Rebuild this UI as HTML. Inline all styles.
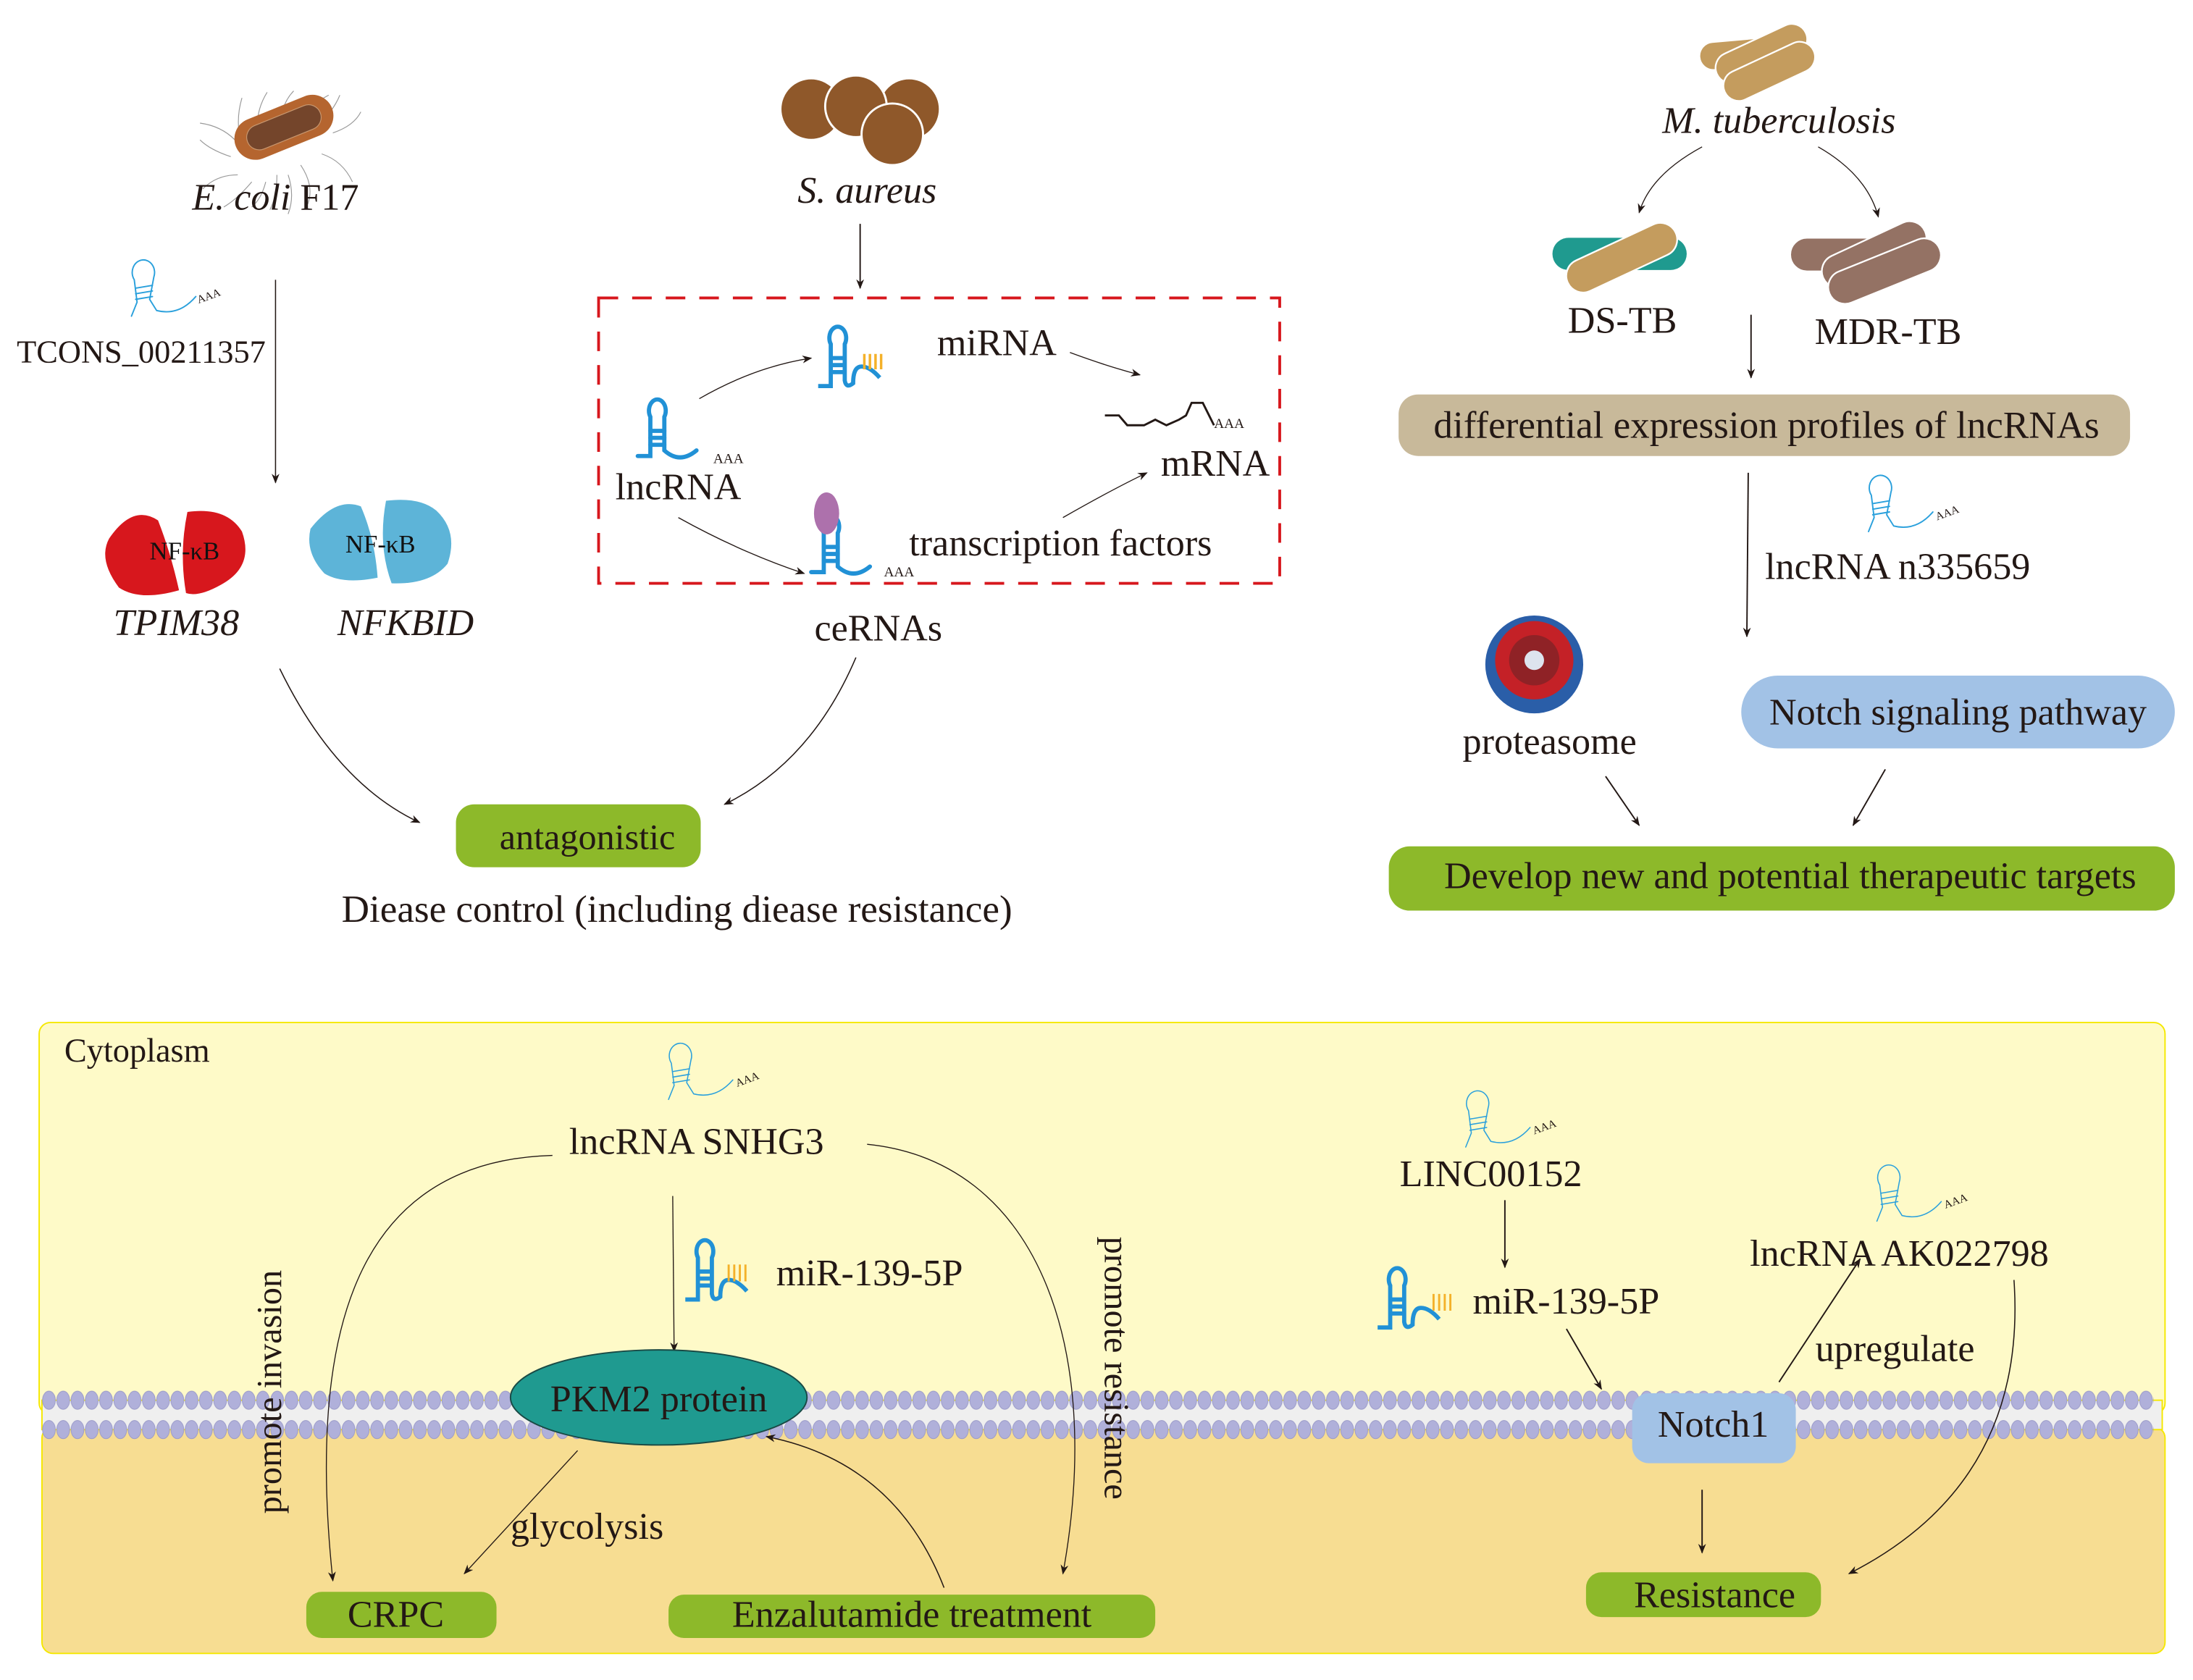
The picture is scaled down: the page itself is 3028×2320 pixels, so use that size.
<!DOCTYPE html>
<html><head><meta charset="utf-8"><style>
html,body{margin:0;padding:0;background:#fff}
svg{display:block}
text{font-family:"Liberation Serif",serif;fill:#231815}
</style></head><body>
<svg width="3028" height="2320" viewBox="0 0 1568 1201" preserveAspectRatio="none" xmlns="http://www.w3.org/2000/svg">
<defs>
<marker id="ar" viewBox="0 0 10 10" refX="9" refY="5" markerWidth="7" markerHeight="7" orient="auto-start-reverse" markerUnits="userSpaceOnUse"><path d="M0,1 L10,5 L0,9 L3,5 z" fill="#231815"/></marker>
<pattern id="mem" x="30" y="991" width="10.2" height="42" patternUnits="userSpaceOnUse">
<ellipse cx="5" cy="10" rx="4.6" ry="6.5" fill="#b0b0da" stroke="#9a9ac8" stroke-width="0.5"/>
<ellipse cx="5" cy="31" rx="4.6" ry="6.5" fill="#b0b0da" stroke="#9a9ac8" stroke-width="0.5"/>
</pattern>
<g id="hp" fill="none" stroke-linecap="round">
<path d="M0,42 L9,42 L9,14 A6,8 0 1 1 19,14 L19,38 Q30,48 42,38"/>
<path d="M9,24 H19 M9,29 H19 M9,34 H19"/>
</g>
<g id="hpt" fill="none" stroke-linecap="round">
<path d="M6,40 L10,30 L8,14 A8,9 0 1 1 22,12 L19,28 L24,36 Q40,40 52,26"/>
<path d="M9,20 L21,18 M9,24 L21,22 M9,28 L21,26"/>
</g>
<g id="mi" fill="none">
<path d="M0,44 L9,44 L9,14 A6,8 0 1 1 19,14 L19,40 Q20,46 25,42 Q25,30 31,30 Q37,30 44,38"/>
<path d="M9,24 H19 M9,29 H19 M9,34 H19"/>
</g>
</defs>

<!-- ===== E. coli section ===== -->
<g stroke="#999" stroke-width="0.6" fill="none">
<path d="M175,110 q-8,-20 -2,-40 M185,102 q-4,-20 6,-36 M200,95 q0,-20 10,-30 M215,90 q6,-15 20,-22 M228,88 q10,-8 15,-20 M238,95 q15,-5 20,-15 M230,110 q15,5 22,20 M215,118 q10,15 5,28 M198,125 q0,15 -5,25 M180,130 q-10,12 -20,18 M170,125 q-15,0 -25,10 M165,112 q-15,-5 -22,-12 M168,100 q-10,-10 -25,-12 M190,130 q-3,12 -10,18 M206,125 q5,15 0,28"/>
</g>
<rect x="166" y="76" width="74" height="30" rx="15" transform="rotate(-22 203 91)" fill="#b5652f"/>
<rect x="175" y="82" width="56" height="18" rx="9" transform="rotate(-22 203 91)" fill="#74452b" stroke="#c89870" stroke-width="0.6"/>
<text x="197" y="150" font-size="27" text-anchor="middle"><tspan font-style="italic">E. coli</tspan> F17</text>
<use href="#hpt" stroke="#2aa0dc" stroke-width="1" transform="translate(88,186)"/>
<text x="142" y="217" font-size="8" transform="rotate(-20 142 217)">AAA</text>
<text x="12" y="259" font-size="23">TCONS_00211357</text>
<line x1="197" y1="200" x2="197" y2="345" stroke="#231815" stroke-width="0.8" marker-end="url(#ar)"/>
<path d="M78,385 Q95,360 113,372 Q122,395 128,422 Q100,430 85,420 Q70,400 78,385z" fill="#d7171d"/>
<path d="M134,366 Q162,362 173,380 Q182,405 158,418 Q142,427 133,424 Q128,395 134,366z" fill="#d7171d"/>
<text x="132" y="400" font-size="18" text-anchor="middle" style="fill:#111">NF-κB</text>
<path d="M222,378 Q240,355 258,362 Q268,385 270,413 Q245,418 232,410 Q218,395 222,378z" fill="#5db4d8"/>
<path d="M276,358 Q300,355 312,365 Q328,380 320,403 Q308,418 280,417 Q270,390 276,358z" fill="#5db4d8"/>
<text x="272" y="395" font-size="18" text-anchor="middle" style="fill:#111">NF-κB</text>
<text x="126" y="454" font-size="27" font-style="italic" text-anchor="middle">TPIM38</text>
<text x="290" y="454" font-size="27" font-style="italic" text-anchor="middle">NFKBID</text>
<path d="M200,478 Q240,560 300,588" fill="none" stroke="#231815" stroke-width="0.8" marker-end="url(#ar)"/>
<path d="M612,470 Q580,545 518,575" fill="none" stroke="#231815" stroke-width="0.8" marker-end="url(#ar)"/>
<rect x="326" y="575" width="175" height="45" rx="13" fill="#8db92a"/>
<text x="420" y="607" font-size="26" text-anchor="middle">antagonistic</text>
<text x="484" y="659" font-size="27.5" text-anchor="middle">Diease control (including diease resistance)</text>

<!-- ===== S. aureus ===== -->
<circle cx="580" cy="78" r="22" fill="#8f582a" stroke="#fff" stroke-width="1.5"/>
<circle cx="650" cy="78" r="22" fill="#8f582a" stroke="#fff" stroke-width="1.5"/>
<circle cx="612" cy="76" r="22" fill="#8f582a" stroke="#fff" stroke-width="1.5"/>
<circle cx="638" cy="96" r="22" fill="#8f582a" stroke="#fff" stroke-width="1.5"/>
<text x="620" y="145" font-size="27" font-style="italic" text-anchor="middle">S. aureus</text>
<line x1="615" y1="160" x2="615" y2="206" stroke="#231815" stroke-width="1" marker-end="url(#ar)"/>
<rect x="428" y="213" width="487" height="204" fill="none" stroke="#d7171d" stroke-width="2" stroke-dasharray="14,10"/>
<use href="#hp" stroke="#2191d6" stroke-width="3" transform="translate(456,284)"/>
<text x="510" y="331" font-size="10">AAA</text>
<text x="440" y="357" font-size="27">lncRNA</text>
<use href="#mi" stroke="#2191d6" stroke-width="3" transform="translate(585,232)"/>
<path d="M618,253 V264 M622,253 V264 M626,253 V264 M630,253 V264" stroke="#f4b12a" stroke-width="1.8"/>
<text x="670" y="254" font-size="27">miRNA</text>
<polyline points="790,297 800,297 806,304 818,304 826,300 834,304 843,300 848,297 852,288 860,288 868,304" fill="none" stroke="#231815" stroke-width="1.5"/>
<text x="868" y="306" font-size="10">AAA</text>
<text x="830" y="340" font-size="27">mRNA</text>
<use href="#hp" stroke="#2191d6" stroke-width="3" transform="translate(580,367)"/>
<ellipse cx="591" cy="367" rx="9" ry="15" fill="#ad71ac"/>
<text x="632" y="412" font-size="10">AAA</text>
<text x="650" y="397" font-size="27">transcription factors</text>
<path d="M500,285 Q540,262 580,256" fill="none" stroke="#231815" stroke-width="0.7" marker-end="url(#ar)"/>
<path d="M765,252 Q792,262 815,268" fill="none" stroke="#231815" stroke-width="0.7" marker-end="url(#ar)"/>
<path d="M485,370 Q530,395 575,410" fill="none" stroke="#231815" stroke-width="0.7" marker-end="url(#ar)"/>
<path d="M760,370 Q795,350 820,338" fill="none" stroke="#231815" stroke-width="0.7" marker-end="url(#ar)"/>
<text x="628" y="458" font-size="27" text-anchor="middle">ceRNAs</text>

<!-- ===== TB section ===== -->
<g fill="#c49c5e" stroke="#fff" stroke-width="1.2">
<rect x="1215" y="28" width="66" height="20" rx="10" transform="rotate(-5 1248 38)"/>
<rect x="1225" y="28" width="70" height="22" rx="11" transform="rotate(-25 1258 40)"/>
<rect x="1230" y="40" width="70" height="22" rx="11" transform="rotate(-25 1265 51)"/>
</g>
<text x="1272" y="95" font-size="27" font-style="italic" text-anchor="middle">M. tuberculosis</text>
<path d="M1217,105 Q1180,125 1172,152" fill="none" stroke="#231815" stroke-width="0.7" marker-end="url(#ar)"/>
<path d="M1300,105 Q1335,125 1343,155" fill="none" stroke="#231815" stroke-width="0.7" marker-end="url(#ar)"/>
<rect x="1110" y="170" width="96" height="23" rx="11.5" fill="#1f9a8f"/>
<rect x="1117" y="172" width="85" height="24" rx="12" transform="rotate(-25 1160 184)" fill="#c49c5e" stroke="#fff" stroke-width="1.2"/>
<text x="1160" y="238" font-size="27" text-anchor="middle">DS-TB</text>
<g fill="#947264" stroke="#fff" stroke-width="1.2">
<rect x="1280" y="170" width="70" height="24" rx="12"/>
<rect x="1300" y="170" width="80" height="24" rx="12" transform="rotate(-25 1340 182)"/>
<rect x="1305" y="182" width="85" height="24" rx="12" transform="rotate(-22 1347 194)"/>
</g>
<text x="1350" y="246" font-size="27" text-anchor="middle">MDR-TB</text>
<line x1="1252" y1="225" x2="1252" y2="270" stroke="#231815" stroke-width="1" marker-end="url(#ar)"/>
<rect x="1000" y="282" width="523" height="44" rx="14" fill="#c8b99a"/>
<text x="1263" y="313" font-size="27.5" text-anchor="middle">differential expression profiles of lncRNAs</text>
<line x1="1250" y1="338" x2="1249" y2="455" stroke="#231815" stroke-width="1" marker-end="url(#ar)"/>
<use href="#hpt" stroke="#2aa0dc" stroke-width="1" transform="translate(1330,340)"/>
<text x="1385" y="372" font-size="8" transform="rotate(-20 1385 372)">AAA</text>
<text x="1262" y="414" font-size="27">lncRNA n335659</text>
<circle cx="1097" cy="475" r="35" fill="#2a5ea8"/>
<circle cx="1097" cy="472" r="28" fill="#c42127"/>
<circle cx="1097" cy="472" r="18" fill="#8f2226"/>
<circle cx="1097" cy="472" r="7" fill="#dde4ee"/>
<text x="1108" y="539" font-size="27" text-anchor="middle">proteasome</text>
<rect x="1245" y="483" width="310" height="52" rx="26" fill="#a2c2e6"/>
<text x="1400" y="518" font-size="27" text-anchor="middle">Notch signaling pathway</text>
<line x1="1148" y1="555" x2="1172" y2="590" stroke="#231815" stroke-width="1" marker-end="url(#ar)"/>
<line x1="1348" y1="550" x2="1325" y2="590" stroke="#231815" stroke-width="1" marker-end="url(#ar)"/>
<rect x="993" y="605" width="562" height="46" rx="15" fill="#8db92a"/>
<text x="1280" y="635" font-size="27" text-anchor="middle">Develop new and potential therapeutic targets</text>

<!-- ===== bottom cell ===== -->
<rect x="28" y="731" width="1520" height="280" rx="8" fill="#fefac8" stroke="#f5e800" stroke-width="1"/>
<rect x="30" y="1020" width="1518" height="162" rx="8" fill="#f7dd92" stroke="#f5e800" stroke-width="1"/>
<rect x="30" y="1001" width="1516" height="21" fill="#efefef" stroke="#f5e800" stroke-width="1"/>
<rect x="30" y="991" width="1510" height="42" fill="url(#mem)"/>
<text x="46" y="759" font-size="24">Cytoplasm</text>
<use href="#hpt" stroke="#2aa0dc" stroke-width="0.8" transform="translate(472,746)"/>
<text x="527" y="777" font-size="8" transform="rotate(-20 527 777)">AAA</text>
<text x="498" y="825" font-size="27" text-anchor="middle">lncRNA SNHG3</text>
<path d="M395,826 C250,830 220,960 238,1130" fill="none" stroke="#231815" stroke-width="0.7" marker-end="url(#ar)"/>
<text transform="translate(201,995) rotate(-90)" font-size="25" text-anchor="middle">promote invasion</text>
<path d="M620,818 C740,830 790,960 760,1125" fill="none" stroke="#231815" stroke-width="0.7" marker-end="url(#ar)"/>
<text transform="translate(790,978) rotate(90)" font-size="25" text-anchor="middle">promote resistance</text>
<line x1="481" y1="855" x2="482" y2="966" stroke="#231815" stroke-width="0.7" marker-end="url(#ar)"/>
<use href="#mi" stroke="#2191d6" stroke-width="3" transform="translate(490,885)"/>
<path d="M521,904 V916 M525,904 V916 M529,904 V916 M533,904 V916" stroke="#f4b12a" stroke-width="1.5"/>
<text x="555" y="919" font-size="27">miR-139-5P</text>
<ellipse cx="471" cy="999" rx="106" ry="34" fill="#1f9a90" stroke="#1a4a45" stroke-width="1"/>
<text x="471" y="1009" font-size="27" text-anchor="middle">PKM2 protein</text>
<line x1="413" y1="1037" x2="332" y2="1125" stroke="#231815" stroke-width="0.7" marker-end="url(#ar)"/>
<text x="365" y="1100" font-size="27">glycolysis</text>
<path d="M675,1135 Q640,1045 548,1027" fill="none" stroke="#231815" stroke-width="0.8" marker-end="url(#ar)"/>
<rect x="219" y="1138" width="136" height="33" rx="11" fill="#8db92a"/>
<text x="283" y="1163" font-size="27" text-anchor="middle">CRPC</text>
<rect x="478" y="1140" width="348" height="31" rx="11" fill="#8db92a"/>
<text x="652" y="1163" font-size="27" text-anchor="middle">Enzalutamide treatment</text>

<use href="#hpt" stroke="#2aa0dc" stroke-width="0.8" transform="translate(1042,780)"/>
<text x="1097" y="811" font-size="8" transform="rotate(-20 1097 811)">AAA</text>
<text x="1066" y="848" font-size="27" text-anchor="middle">LINC00152</text>
<line x1="1076" y1="858" x2="1076" y2="906" stroke="#231815" stroke-width="1" marker-end="url(#ar)"/>
<use href="#mi" stroke="#2191d6" stroke-width="3" transform="translate(985,905)"/>
<path d="M1025,925 V937 M1029,925 V937 M1033,925 V937 M1037,925 V937" stroke="#f4b12a" stroke-width="1.5"/>
<text x="1053" y="939" font-size="27">miR-139-5P</text>
<line x1="1120" y1="950" x2="1145" y2="993" stroke="#231815" stroke-width="1" marker-end="url(#ar)"/>
<rect x="1167" y="996" width="117" height="50" rx="12" fill="#a2c2e6"/>
<text x="1225" y="1027" font-size="27" text-anchor="middle">Notch1</text>
<line x1="1272" y1="988" x2="1330" y2="900" stroke="#231815" stroke-width="1" marker-end="url(#ar)"/>
<text x="1298" y="973" font-size="27">upregulate</text>
<use href="#hpt" stroke="#2aa0dc" stroke-width="0.8" transform="translate(1336,833)"/>
<text x="1391" y="864" font-size="8" transform="rotate(-20 1391 864)">AAA</text>
<text x="1358" y="905" font-size="27" text-anchor="middle">lncRNA AK022798</text>
<path d="M1440,915 Q1450,1060 1322,1125" fill="none" stroke="#231815" stroke-width="0.8" marker-end="url(#ar)"/>
<line x1="1217" y1="1065" x2="1217" y2="1110" stroke="#231815" stroke-width="1" marker-end="url(#ar)"/>
<rect x="1134" y="1124" width="168" height="32" rx="11" fill="#8db92a"/>
<text x="1226" y="1149" font-size="27" text-anchor="middle">Resistance</text>
</svg>
</body></html>
